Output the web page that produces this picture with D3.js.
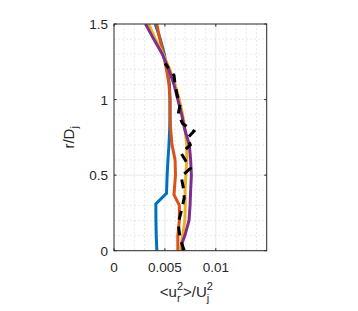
<!DOCTYPE html>
<html lang="en">
<head>
<meta charset="utf-8">
<title>u_r variance profile</title>
<script src="https://cdn.jsdelivr.net/npm/d3@7"></script>
<style>
  body { margin: 0; background: #fff; }
  text { font-family: "Liberation Sans", Arial, sans-serif; fill: #262626; }
</style>
</head>
<body>
<script>
// r/Dj sample positions for each series
var rBlue   = [0, 0.1, 0.2, 0.31, 0.38, 0.5, 0.6, 0.7, 0.81, 0.9, 1.0, 1.1, 1.2, 1.3, 1.4, 1.5];
var uBlue   = [4.21, 4.15, 4.12, 4.11, 5.16, 5.22, 5.3, 5.4, 5.47, 5.5, 5.5, 5.45, 5.2, 4.95, 4.55, 4.05];

var rOrange = [0, 0.1, 0.2, 0.3, 0.37, 0.5, 0.6, 0.7, 0.8, 0.9, 1.0, 1.1, 1.2, 1.3, 1.4, 1.5];
var uOrange = [6.27, 6.27, 6.42, 6.42, 5.89, 6.04, 6.0, 5.7, 5.57, 5.5, 5.5, 5.4, 5.16, 4.84, 4.5, 4.2];

var rYellow = [0, 0.1, 0.2, 0.3, 0.4, 0.5, 0.6, 0.7, 0.8, 0.9, 1.0, 1.1, 1.2, 1.3, 1.4, 1.5];
var uYellow = [6.5, 6.74, 6.96, 7.0, 6.98, 7.06, 7.15, 7.15, 6.98, 6.74, 6.42, 6.0, 5.47, 4.84, 4.05, 3.42];

var rPurple = [0, 0.05, 0.1, 0.2, 0.3, 0.4, 0.5, 0.6, 0.7, 0.8, 0.9, 1.0, 1.1, 1.2, 1.3, 1.4, 1.5];
var uPurple = [6.74, 6.68, 6.96, 7.37, 7.47, 7.53, 7.6, 7.53, 7.4, 6.96, 6.65, 6.27, 5.89, 5.38, 4.75, 3.9, 3.1];

var rBlack  = [0, 0.08, 0.18, 0.26, 0.35, 0.42, 0.49, 0.545, 0.6, 0.644, 0.70, 0.745, 0.79, 0.84, 0.9, 0.97, 1.03, 1.1, 1.16, 1.24];
var uBlack  = [6.9, 6.5, 6.3, 6.6, 6.9, 6.8, 6.6, 7.5, 7.0, 6.6, 7.5, 7.2, 7.85, 6.75, 6.3, 6.5, 6.2, 6.0, 5.9, 5.0];

var xTicks = [0, 0.005, 0.01];
var xTickLabels = ["0", "0.005", "0.01"];
var yTicks = [0, 0.5, 1, 1.5];
var yTickLabels = ["0", "0.5", "1", "1.5"];

var W = 358, H = 311;
var pLeft = 114, pTop = 24, pw = 152.7, ph = 226.7;

var svg = d3.select("body").append("svg")
    .attr("width", W).attr("height", H);

var x = d3.scaleLinear().domain([0, 0.015]).range([pLeft, pLeft + pw]);
var y = d3.scaleLinear().domain([0, 1.5]).range([pTop + ph, pTop]);

// minor grid
var g = svg.append("g");
d3.range(1, 15).forEach(function(i){
  if (i % 5 == 0) return;
  g.append("line").attr("x1", x(i/1000)).attr("x2", x(i/1000))
    .attr("y1", pTop).attr("y2", pTop+ph)
    .attr("stroke", "#dcdcdc").attr("stroke-width", 0.6).attr("stroke-dasharray", "2,2");
});
d3.range(1, 15).forEach(function(i){
  if (i % 5 == 0) return;
  g.append("line").attr("y1", y(i/10)).attr("y2", y(i/10))
    .attr("x1", pLeft).attr("x2", pLeft+pw)
    .attr("stroke", "#dcdcdc").attr("stroke-width", 0.6).attr("stroke-dasharray", "2,2");
});
// major grid
[0.005, 0.01].forEach(function(v){
  g.append("line").attr("x1", x(v)).attr("x2", x(v)).attr("y1", pTop).attr("y2", pTop+ph)
    .attr("stroke", "#dedede").attr("stroke-width", 0.7);
});
[0.5, 1].forEach(function(v){
  g.append("line").attr("y1", y(v)).attr("y2", y(v)).attr("x1", pLeft).attr("x2", pLeft+pw)
    .attr("stroke", "#dedede").attr("stroke-width", 0.7);
});

// curves
var line = d3.line()
    .x(function(d){ return x(d[0]/1000); })
    .y(function(d){ return y(d[1]); });

function series(u, r){ return u.map(function(v, i){ return [v, r[i]]; }); }

var plot = svg.append("g");
plot.append("clipPath").attr("id", "clip").append("rect")
  .attr("x", pLeft).attr("y", pTop).attr("width", pw).attr("height", ph);
var lines = [
  [uBlue, rBlue, "#0072BD", null],
  [uOrange, rOrange, "#D95319", null],
  [uYellow, rYellow, "#EDB120", null],
  [uPurple, rPurple, "#7E2F8E", null],
  [uBlack, rBlack, "#000000", "9,7"]
];
lines.forEach(function(s){
  plot.append("path")
    .attr("d", line(series(s[0], s[1])))
    .attr("fill", "none")
    .attr("stroke", s[2])
    .attr("stroke-width", 3)
    .attr("stroke-dasharray", s[3])
    .attr("clip-path", "url(#clip)");
});

// box + ticks
var ax = svg.append("g");
ax.append("rect").attr("x", pLeft).attr("y", pTop).attr("width", pw).attr("height", ph)
  .attr("fill", "none").attr("stroke", "#262626").attr("stroke-width", 1);
xTicks.forEach(function(v){
  ax.append("line").attr("x1", x(v)).attr("x2", x(v)).attr("y1", pTop+ph).attr("y2", pTop+ph-2.5)
    .attr("stroke", "#262626");
  ax.append("line").attr("x1", x(v)).attr("x2", x(v)).attr("y1", pTop).attr("y2", pTop+2.5)
    .attr("stroke", "#262626");
});
yTicks.forEach(function(v){
  ax.append("line").attr("y1", y(v)).attr("y2", y(v)).attr("x1", pLeft).attr("x2", pLeft+2.5)
    .attr("stroke", "#262626");
  ax.append("line").attr("y1", y(v)).attr("y2", y(v)).attr("x1", pLeft+pw).attr("x2", pLeft+pw-2.5)
    .attr("stroke", "#262626");
});

svg.selectAll("text.xt").data(xTicks).enter().append("text")
  .attr("class", "xt")
  .attr("x", function(d){ return x(d); })
  .attr("y", pTop + ph + 21)
  .attr("text-anchor", "middle")
  .attr("font-size", "13.5px")
  .text(function(d, i){ return xTickLabels[i]; });

svg.selectAll("text.yt").data(yTicks).enter().append("text")
  .attr("class", "yt")
  .attr("x", pLeft - 6)
  .attr("y", function(d){ return y(d) + 5; })
  .attr("text-anchor", "end")
  .attr("font-size", "13.5px")
  .text(function(d, i){ return yTickLabels[i]; });

// x label  <u_r^2>/U_j^2
var xl = svg.append("text")
  .attr("x", pLeft + pw/2 - 4).attr("y", 297)
  .attr("text-anchor", "middle")
  .attr("font-size", "15px");
xl.append("tspan").text("<u");
xl.append("tspan").attr("font-size", "11px").attr("dy", -7).text("2");
xl.append("tspan").attr("font-size", "11px").attr("dx", -6.1).attr("dy", 12).text("r");
xl.append("tspan").attr("dx", 2.4).attr("dy", -5).text(">/U");
xl.append("tspan").attr("font-size", "11px").attr("dy", -7).text("2");
xl.append("tspan").attr("font-size", "11px").attr("dx", -6.1).attr("dy", 12).text("j");

// y label r/D_j
var yl = svg.append("text")
  .attr("transform", "translate(74," + (pTop + ph/2) + ") rotate(-90)")
  .attr("text-anchor", "middle")
  .attr("font-size", "15px");
yl.append("tspan").text("r/D");
yl.append("tspan").attr("font-size", "11px").attr("dy", 4).text("j");
</script>
</body>
</html>
